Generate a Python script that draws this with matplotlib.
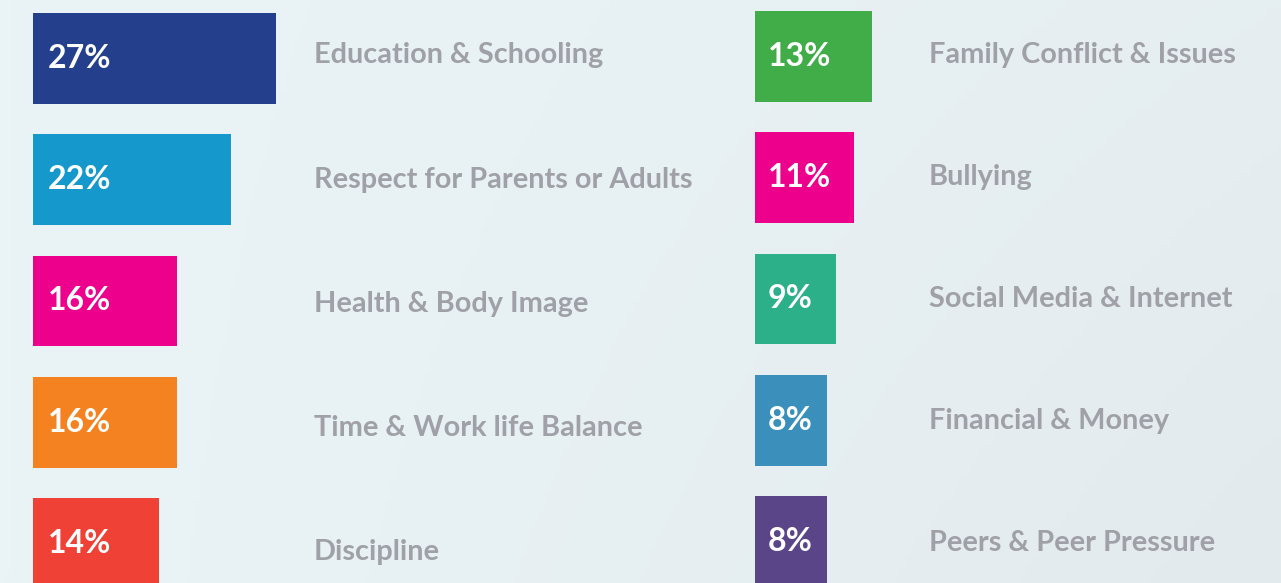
import numpy as np
import matplotlib
matplotlib.use("Agg")
import matplotlib.pyplot as plt

plt.rcParams["font.family"] = ["Lato", "DejaVu Sans"]

# data
left_topics = ["Education & Schooling", "Respect for Parents or Adults",
               "Health & Body Image", "Time & Work life Balance", "Discipline"]
left_values = [27, 22, 16, 16, 14]
left_colors = ["#243f8c", "#1598cb", "#ec008c", "#f58220", "#ef4136"]

right_topics = ["Family Conflict & Issues", "Bullying", "Social Media & Internet",
                "Financial & Money", "Peers & Peer Pressure"]
right_values = [13, 11, 9, 8, 8]
right_colors = ["#41ad49", "#ec008c", "#2bb08a", "#3a8fbb", "#5b4589"]

W, H = 1281, 583
BG = "#e8f0f3"
TEXT_GREY = "#a0a1a8"
PX_PER_PCT = 9.0
ROW_PX = 121.25

fig = plt.figure(figsize=(W / 100, H / 100), dpi=100)
fig.patch.set_facecolor(BG)

# soft background gradient
bg_ax = fig.add_axes([0, 0, 1, 1])
grad = np.linspace(0, 1, 256)[None, :] * np.linspace(0.6, 1, 64)[:, None]
bg_ax.imshow(grad, cmap=matplotlib.colors.LinearSegmentedColormap.from_list(
    "bg", ["#eaf4f7", "#e3eaed"]), aspect="auto", extent=[0, 1, 0, 1])
bg_ax.axis("off")


def column(x0_px, first_center_px, topics, values, colors, label_px, pct_px,
           drift0, drift):
    width_px = W - x0_px if x0_px > 600 else 700 - x0_px
    ax = fig.add_axes([x0_px / W, 0, width_px / W, 1])
    ax.set_xlim(0, width_px / PX_PER_PCT)
    top = -first_center_px / ROW_PX
    bottom = top + H / ROW_PX
    ax.set_ylim(bottom, top)
    ax.axis("off")
    ax.patch.set_alpha(0)
    y = np.arange(len(values))
    ax.barh(y, values, height=0.75, color=colors)
    for yi, v, t in zip(y, values, topics):
        ax.text(pct_px / PX_PER_PCT, yi, f"{v}%", color="white",
                fontsize=23, fontweight="bold", va="center", ha="left")
        # the source picture is slightly skewed, labels drift downwards
        shift = (drift0 + drift * yi) / ROW_PX
        ax.text(label_px / PX_PER_PCT, yi + shift, t, color=TEXT_GREY,
                fontsize=20.8, fontweight="bold", va="center", ha="left")


column(33, 58.5, left_topics, left_values, left_colors, 281, 15, -3, 2.8)
column(755, 56.5, right_topics, right_values, right_colors, 174, 13, -2, 0.8)

fig.savefig("out.png", dpi=100, facecolor=BG)
